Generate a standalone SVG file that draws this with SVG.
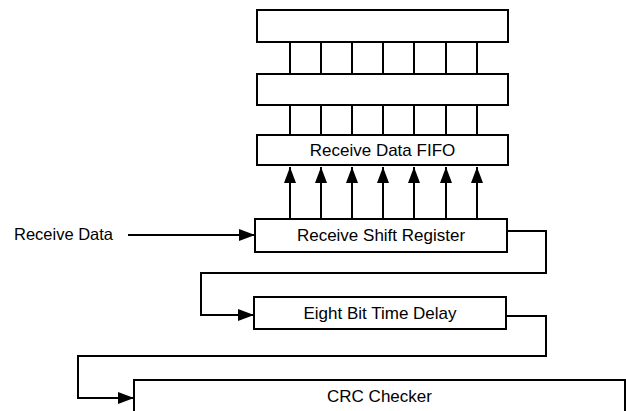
<svg xmlns="http://www.w3.org/2000/svg" width="626" height="411" viewBox="0 0 626 411">
<defs>
<style>
.box{fill:#fff;stroke:#000;stroke-width:2}
.ln{fill:none;stroke:#000;stroke-width:2}
.t{font-family:"Liberation Sans",Arial,sans-serif;font-size:17px;fill:#000;text-anchor:middle}
.lt{font-family:"Liberation Sans",Arial,sans-serif;font-size:16.5px;fill:#000}
</style>
<marker id="ah" viewBox="0 0 16 12" refX="16" refY="6" markerWidth="16" markerHeight="12" markerUnits="userSpaceOnUse" orient="auto">
<path d="M0,0 L16,6 L0,12 Z" fill="#000"/>
</marker>
</defs>
<g id="connectors">
<g id="bus-top">
<line class="ln" x1="290" y1="42" x2="290" y2="74"/>
<line class="ln" x1="321" y1="42" x2="321" y2="74"/>
<line class="ln" x1="352" y1="42" x2="352" y2="74"/>
<line class="ln" x1="383" y1="42" x2="383" y2="74"/>
<line class="ln" x1="414" y1="42" x2="414" y2="74"/>
<line class="ln" x1="446" y1="42" x2="446" y2="74"/>
<line class="ln" x1="477" y1="42" x2="477" y2="74"/>
</g>
<g id="bus-mid">
<line class="ln" x1="290" y1="105" x2="290" y2="135"/>
<line class="ln" x1="321" y1="105" x2="321" y2="135"/>
<line class="ln" x1="352" y1="105" x2="352" y2="135"/>
<line class="ln" x1="383" y1="105" x2="383" y2="135"/>
<line class="ln" x1="414" y1="105" x2="414" y2="135"/>
<line class="ln" x1="446" y1="105" x2="446" y2="135"/>
<line class="ln" x1="477" y1="105" x2="477" y2="135"/>
</g>
<g id="bus-arrows">
<line class="ln" x1="290" y1="219" x2="290" y2="167" marker-end="url(#ah)"/>
<line class="ln" x1="321" y1="219" x2="321" y2="167" marker-end="url(#ah)"/>
<line class="ln" x1="352" y1="219" x2="352" y2="167" marker-end="url(#ah)"/>
<line class="ln" x1="383" y1="219" x2="383" y2="167" marker-end="url(#ah)"/>
<line class="ln" x1="414" y1="219" x2="414" y2="167" marker-end="url(#ah)"/>
<line class="ln" x1="446" y1="219" x2="446" y2="167" marker-end="url(#ah)"/>
<line class="ln" x1="477" y1="219" x2="477" y2="167" marker-end="url(#ah)"/>
</g>
<line class="ln" x1="128" y1="235" x2="255" y2="235" marker-end="url(#ah)"/>
<polyline class="ln" points="507,231 546,231 546,273 201,273 201,315 254,315" marker-end="url(#ah)"/>
<polyline class="ln" points="506,316 546,316 546,356 78,356 78,398 134,398" marker-end="url(#ah)"/>
</g>
<g id="reg-top"><rect class="box" x="257" y="10" width="251" height="32"/></g>
<g id="reg-mid"><rect class="box" x="257" y="74" width="251" height="31"/></g>
<g id="fifo"><rect class="box" x="257" y="135" width="251" height="30"/><text class="t" x="382.5" y="156">Receive Data FIFO</text></g>
<g id="receive-data"><text class="lt" x="14" y="240">Receive Data</text></g>
<g id="shift"><rect class="box" x="255" y="219" width="252" height="33"/><text class="t" x="381" y="241">Receive Shift Register</text></g>
<g id="delay"><rect class="box" x="254" y="297" width="252" height="32"/><text class="t" x="380" y="319">Eight Bit Time Delay</text></g>
<g id="crc"><rect class="box" x="134" y="380" width="491" height="40"/><text class="t" x="379.5" y="402">CRC Checker</text></g>
</svg>
